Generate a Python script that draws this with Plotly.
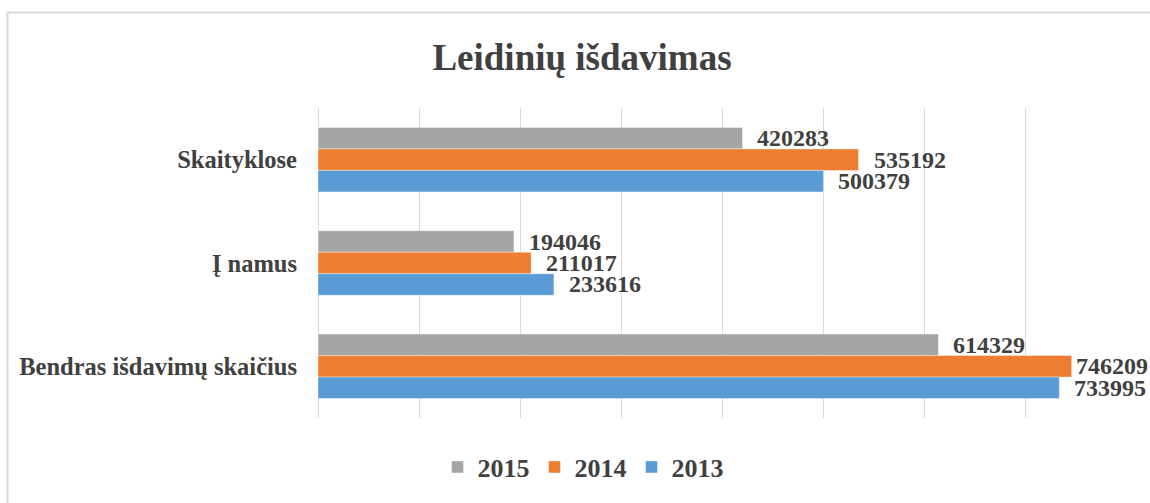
import plotly.graph_objects as go

categories = ["Skaityklose", "Į namus", "Bendras išdavimų skaičius"]
years = ["2015", "2014", "2013"]
values_2015 = [420283, 194046, 614329]
values_2014 = [535192, 211017, 746209]
values_2013 = [500379, 233616, 733995]
colors = ["#A5A5A5", "#ED7D31", "#5B9BD5"]

series = [values_2015, values_2014, values_2013]

W, H = 1150, 503
ML, MR, MT, MB = 318, 24, 108, 85
XMAX = 800000
plot_w = W - ML - MR
plot_h = H - MT - MB
TEXT = "#404040"
FONT = "Liberation Serif"

fig = go.Figure()
for name, vals, col in zip(years, series, colors):
    fig.add_trace(go.Bar(
        y=categories, x=vals, name=name, orientation="h",
        marker=dict(color=col, line=dict(color="rgba(255,255,255,0.5)", width=0.8)),
        hoverinfo="skip",
    ))

bargap = 0.376
bar_px = plot_h / len(categories) * (1 - bargap) / len(series)
annotations = []
label_w = 72
for i, vals in enumerate(series):
    yshift = (1 - i) * bar_px
    for cat, v in zip(categories, vals):
        end_px = ML + v / XMAX * plot_w
        start = min(end_px + 13, W - 4 - label_w)
        annotations.append(dict(
            x=v, y=cat, xref="x", yref="y", text=str(v), showarrow=False,
            xanchor="left", yanchor="middle", xshift=start - end_px, yshift=yshift,
            font=dict(family=FONT, size=24, color=TEXT, weight="bold"),
        ))

def px_to_paper_x(px):
    return (px - ML) / plot_w

def px_to_paper_y(py):
    return (H - MB - py) / plot_h

fig.update_layout(
    width=W, height=H,
    margin=dict(l=ML, r=MR, t=MT, b=MB),
    paper_bgcolor="white", plot_bgcolor="white",
    barmode="group", bargap=bargap, bargroupgap=0,
    title=dict(text="Leidinių išdavimas", x=582 / W, xref="container", xanchor="center",
               y=1 - 57 / H, yref="container", yanchor="middle",
               font=dict(family=FONT, size=37, color=TEXT, weight="bold")),
    xaxis=dict(range=[0, XMAX], dtick=100000, showticklabels=False, showgrid=True,
               gridcolor="#d9d9d9", gridwidth=1, zeroline=True, zerolinecolor="#d9d9d9",
               zerolinewidth=1, showline=False, fixedrange=True),
    yaxis=dict(autorange="reversed", showgrid=False, showline=False, ticks="",
               ticklabelstandoff=20,
               tickfont=dict(family=FONT, size=24.5, color=TEXT, weight="bold")),
    legend=dict(orientation="h", x=583 / W, xanchor="center", xref="container",
                y=1 - 467 / H, yanchor="middle", yref="container",
                font=dict(family=FONT, size=26, color=TEXT, weight="bold"),
                itemclick=False, itemdoubleclick=False),
    annotations=annotations,
    shapes=[dict(type="rect", xref="paper", yref="paper",
                 x0=px_to_paper_x(7.5), x1=px_to_paper_x(1170),
                 y0=px_to_paper_y(530), y1=px_to_paper_y(12.5),
                 line=dict(color="#d9d9d9", width=2), fillcolor="rgba(0,0,0,0)",
                 layer="below")],
)

fig.write_html(
    "out.html",
    config={"displayModeBar": False},
    post_script="document.body.style.margin='0';document.body.style.overflow='hidden';",
)
